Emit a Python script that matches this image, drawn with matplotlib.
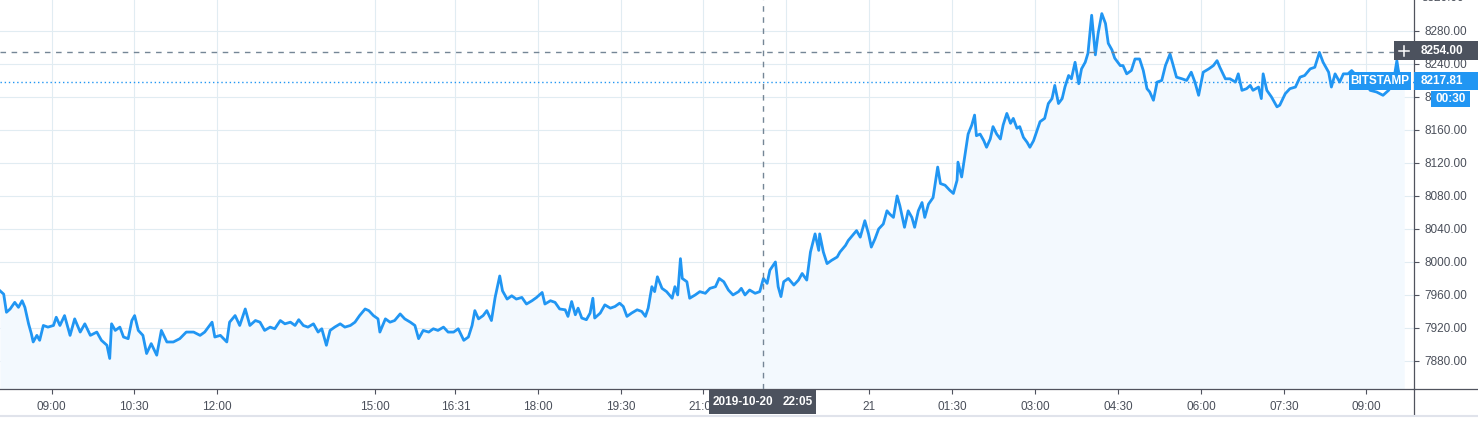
import matplotlib
matplotlib.use("Agg")
import matplotlib.pyplot as plt
from matplotlib.patches import Rectangle, Polygon
from matplotlib.lines import Line2D
import matplotlib.transforms as mtransforms

plt.rcParams['font.family'] = ['Liberation Sans', 'DejaVu Sans']

# ---------------- data ----------------
# x values are bar numbers (1-minute bars since the first bar, 08:04 on 2019-10-20)
bars = [
    0, 4, 7, 11, 16, 20, 24, 27, 31, 34, 36, 40, 43, 47, 52, 58, 61, 65, 70, 76, 81, 87, 92, 98, 105, 110, 116, 119,
    121, 125, 130, 134, 139, 143, 146, 150, 155, 159, 164, 170, 175, 181, 188, 195, 202, 210, 217, 222, 230, 233,
    239, 246, 249, 255, 260, 266, 271, 277, 282, 287, 293, 298, 304,
    309, 315, 320, 324, 329, 334, 340, 345, 349, 354, 358, 363, 369, 374, 380, 385, 390, 396, 400, 405,
    410, 412, 418, 423, 428, 434, 439, 445, 450, 454, 459, 465, 470, 475, 481, 486, 492, 497, 503, 508,
    512, 515, 519, 524, 528, 533, 537, 542, 545, 550, 555, 560, 566, 571, 577, 582, 588, 591, 597, 602, 607,
    613, 616, 620, 624, 627, 631, 636, 640, 643, 645, 651, 656, 662, 667, 672, 676, 680, 685, 691, 696,
    700, 703, 707, 710, 713, 718, 723, 729, 732, 735, 738, 740, 745, 748, 754, 759, 765, 770, 776, 780,
    785, 790, 795, 801, 804, 808, 813, 819, 824, 828, 832, 835, 841, 844, 847, 850, 855, 861, 866, 870,
    875, 879, 884, 888, 889, 893, 897, 902, 908, 911,
    917, 920, 926, 929, 933, 938, 942, 945, 949, 953, 958, 962, 965, 969, 973, 976, 981, 985, 989, 992,
    996, 1000, 1003, 1007, 1012, 1017, 1020, 1025, 1030, 1034, 1038, 1039, 1043, 1047, 1050, 1054, 1057, 1059, 1063, 1067,
    1070, 1074, 1077, 1081, 1085, 1088, 1092, 1096, 1099, 1103, 1106, 1110, 1114, 1117, 1121, 1124, 1128, 1133, 1137, 1141,
    1144, 1148, 1152, 1155, 1159, 1162, 1166, 1170, 1173, 1177, 1180, 1184, 1188, 1191, 1195, 1199, 1202, 1206, 1209,
    1215, 1218, 1222, 1227, 1231, 1236, 1240, 1244, 1247, 1251, 1255, 1260, 1264, 1269, 1273, 1276, 1282, 1287, 1292, 1296,
    1300, 1305, 1311, 1316, 1320, 1323, 1329, 1334, 1340, 1343, 1347, 1352, 1356, 1359, 1365, 1368, 1370, 1374, 1379, 1385,
    1388, 1394, 1399, 1405, 1410, 1415, 1421, 1426, 1431, 1435, 1441, 1444, 1448, 1453, 1457, 1462, 1466, 1471, 1479, 1486,
    1493, 1500, 1506, 1511, 1515, 1518, 1523,
]
prices = [
    7965, 7961, 7939, 7943, 7951, 7945, 7953, 7945, 7925, 7913, 7903, 7911, 7905, 7923, 7921, 7923, 7933, 7923, 7935, 7911,
    7931, 7915, 7925, 7911, 7915, 7905, 7899, 7883, 7925, 7917, 7921, 7909, 7907, 7929, 7935, 7917, 7911, 7889, 7901, 7887,
    7917, 7903, 7903, 7907, 7915, 7915, 7911, 7915, 7927, 7909, 7911, 7903, 7927, 7935, 7923, 7943, 7923, 7929, 7927, 7917,
    7921, 7919, 7929,
    7925, 7927, 7923, 7930, 7923, 7921, 7925, 7915, 7919, 7899, 7917, 7921, 7925, 7921, 7923, 7927, 7935, 7943, 7941, 7935,
    7931, 7915, 7931, 7927, 7929, 7937, 7931, 7927, 7923, 7907, 7917, 7915, 7919, 7917, 7921, 7915, 7915, 7919, 7905, 7909,
    7923, 7941, 7931, 7935, 7941, 7929, 7957, 7983, 7965, 7955, 7959, 7955, 7957, 7949, 7953, 7957, 7963, 7949, 7953, 7951,
    7943,
    7942, 7934, 7952, 7936, 7944, 7932, 7930, 7938, 7956, 7932, 7938, 7948, 7944, 7946, 7950, 7946, 7934, 7938, 7942, 7940,
    7934, 7944, 7970, 7964, 7982, 7968, 7964, 7956, 7970, 7960, 8004, 7980, 7976, 7956, 7960, 7964, 7962, 7968, 7970, 7980,
    7976, 7966, 7960, 7964, 7968, 7960, 7966, 7962, 7964, 7980, 7974, 7990, 8000, 7970, 7958, 7976, 7980, 7972, 7978, 7986,
    7978, 8012, 8034, 8014, 8034, 8012, 7998, 8002, 8006, 8012,
    8020, 8026, 8034, 8038, 8030, 8050, 8034, 8018, 8028, 8040, 8046, 8062, 8058, 8054, 8080, 8068, 8042, 8062, 8054, 8042,
    8062, 8072, 8054, 8070, 8078, 8115, 8095, 8093, 8087, 8083, 8099, 8121, 8103, 8133, 8155, 8166, 8178, 8153, 8155, 8147,
    8139, 8149, 8164, 8155, 8149, 8166, 8180, 8168, 8174, 8162, 8164, 8151, 8145, 8139, 8147, 8157, 8170, 8174, 8192, 8198,
    8214, 8192, 8198, 8212, 8226, 8222, 8242, 8216, 8234, 8242, 8253, 8299, 8251, 8277, 8301, 8289, 8265, 8257, 8247,
    8238, 8238, 8228, 8232, 8246, 8246, 8232, 8210, 8206, 8196, 8218, 8220, 8238, 8252, 8236, 8224, 8222, 8220, 8230, 8218,
    8202, 8230, 8234, 8238, 8244, 8236, 8222, 8222, 8218, 8228, 8208, 8210, 8214, 8208, 8212, 8198, 8228, 8208, 8200, 8188,
    8190, 8204, 8210, 8212, 8224, 8226, 8234, 8236, 8254, 8242, 8230, 8212, 8228, 8218, 8228, 8228, 8232, 8226, 8222, 8208,
    8206, 8202, 8208, 8216, 8244, 8222, 8217.81,
]

time_tick_labels = ["09:00", "10:30", "12:00", "15:00", "16:31", "18:00", "19:30", "21:00", "22:30",
                    "21", "01:30", "03:00", "04:30", "06:00", "07:30", "09:00"]
time_tick_bars = [56, 145, 235, 407, 494, 583, 673, 763, 853, 943, 1033, 1123, 1213, 1303, 1393, 1482]
price_ticks = [7880, 7920, 7960, 8000, 8040, 8080, 8120, 8160, 8200, 8240, 8280]
top_price_label = 8320

crosshair_bar = 828
crosshair_price = 8254.00
crosshair_date = "2019-10-20"
crosshair_time = "22:05"
last_price = 8217.81
exchange = "BITSTAMP"
countdown = "00:30"

x_range = (0, 1533.6)
y_range = (7846, 8317.5)

# ---------------- style ----------------
W, H = 1478, 426
BLUE = "#2196f3"
DARK = "#4c525e"
AXIS = "#50535e"
GRID = "#e1ecf2"
FILL = "#f3f9fe"
TXT = "#4a4f5a"
FS = 8.5


def fx(px):
    return px / W


def fy(py):
    return 1 - py / H


fig = plt.figure(figsize=(W / 100, H / 100), dpi=100)
fig.patch.set_facecolor("white")
ax = fig.add_axes([0, fy(389), fx(1414), 389 / H])

ax.fill_between(bars, prices, y_range[0], color=FILL, lw=0, zorder=1)
ax.plot(bars, prices, color=BLUE, lw=2.0, zorder=3, solid_joinstyle="round")

ax.set_xlim(*x_range)
ax.set_ylim(*y_range)

ax.set_xticks(time_tick_bars)
ax.set_xticklabels(time_tick_labels)
ax.set_yticks(price_ticks)
ax.set_yticklabels([f"{v:.2f}" for v in price_ticks])
ax.yaxis.tick_right()
ax.grid(True, color=GRID, lw=0.8, zorder=0)
ax.set_axisbelow(True)
ax.tick_params(axis="both", direction="out", length=3.5, width=0.8, color=AXIS,
               labelcolor=TXT, labelsize=FS)
ax.tick_params(axis="x", pad=5)
ax.tick_params(axis="y", pad=4)
for s in ["left", "top"]:
    ax.spines[s].set_visible(False)
for s in ["right", "bottom"]:
    ax.spines[s].set_color(AXIS)
    ax.spines[s].set_linewidth(0.9)

# partially visible top label
blend = mtransforms.blended_transform_factory(ax.transAxes, ax.transData)
ax.text(1.0 + 8 / 1414, top_price_label, f"{top_price_label:.2f}", transform=blend,
        ha="left", va="center", fontsize=FS, color=TXT, clip_on=False)

# last price dotted line and crosshair lines
ax.axhline(last_price, color=BLUE, lw=1.0, ls=(0, (1, 2)), zorder=4)
ax.axhline(crosshair_price, color="#758696", lw=1.0, ls=(0, (4, 4)), zorder=4)
ax.axvline(crosshair_bar, color="#758696", lw=1.0, ls=(0, (4, 4)), zorder=4)

# figure-level frame lines
fig.add_artist(Line2D([fx(1414), 1], [fy(389), fy(389)], transform=fig.transFigure, color=AXIS, lw=0.9, zorder=5))
fig.add_artist(Line2D([fx(1414), fx(1414)], [fy(389), fy(415)], transform=fig.transFigure, color=AXIS, lw=0.9, zorder=5))
fig.add_artist(Line2D([0, 1], [fy(415.5), fy(415.5)], transform=fig.transFigure, color="#e0e3eb", lw=1.5, zorder=5))


def box(x0, y0, x1, y1, color):
    r = Rectangle((fx(x0), fy(y1)), (x1 - x0) / W, (y1 - y0) / H, transform=fig.transFigure,
                  facecolor=color, edgecolor="none", zorder=10)
    fig.add_artist(r)


def label(x, y, s, ha="left", bold=True):
    fig.text(fx(x), fy(y), s, ha=ha, va="center", fontsize=FS, color="white",
             fontweight="bold" if bold else "normal", zorder=11)


# crosshair price label
box(1394, 41, 1478, 60, DARK)
fig.add_artist(Line2D([fx(1399), fx(1409)], [fy(50.5), fy(50.5)], transform=fig.transFigure, color="white", lw=1.1, zorder=11))
fig.add_artist(Line2D([fx(1404), fx(1404)], [fy(45.5), fy(55.5)], transform=fig.transFigure, color="white", lw=1.1, zorder=11))
label(1421, 50.5, f"{crosshair_price:.2f}")

# last price label
box(1414, 72, 1478, 90, BLUE)
label(1421, 81, f"{last_price:.2f}")

# exchange label
box(1349, 72, 1411, 90, BLUE)
fig.add_artist(Polygon([(fx(1394), fy(72.5)), (fx(1400), fy(72.5)), (fx(1397), fy(64))], closed=True,
                       transform=fig.transFigure, facecolor=BLUE, edgecolor="none", zorder=10))
label(1380, 81, exchange, ha="center", bold=True)

# countdown label
box(1431, 91, 1470, 107, BLUE)
label(1450.5, 99, countdown, ha="center")

# crosshair time label
box(709, 390, 816, 414, DARK)
label(743, 402, crosshair_date, ha="center")
label(798, 402, crosshair_time, ha="center")

fig.savefig("out.png", dpi=100, facecolor="white")
